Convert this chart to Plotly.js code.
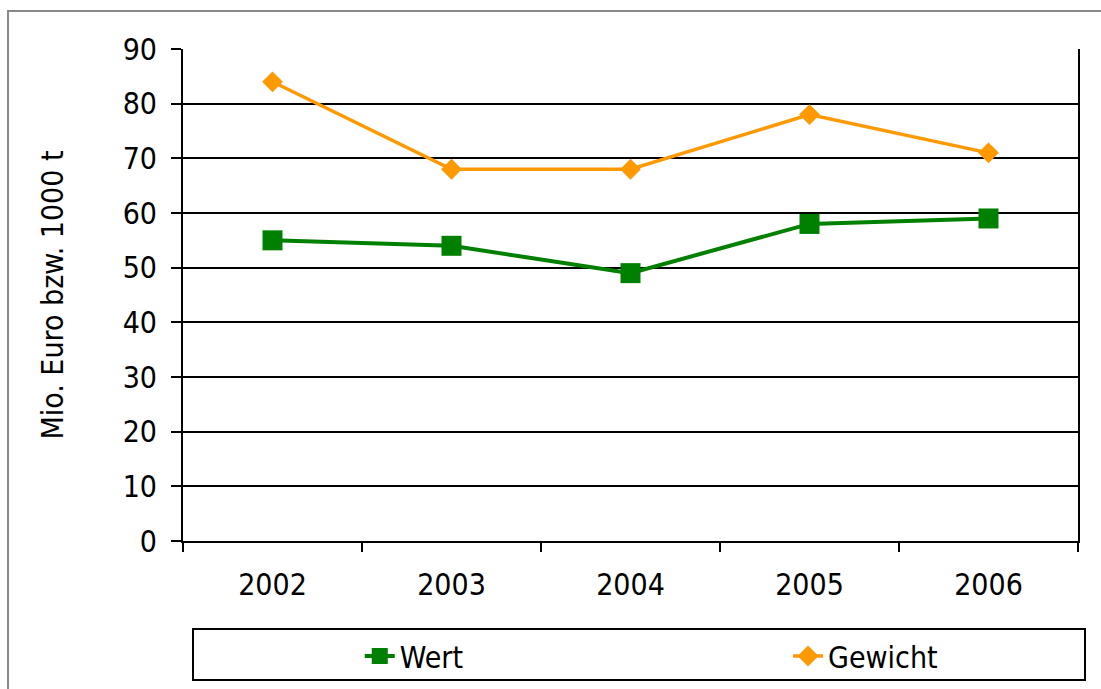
<!DOCTYPE html>
<html><head><meta charset="utf-8">
<script src="https://cdn.plot.ly/plotly-3.0.1.min.js"></script>
<style>html,body{margin:0;padding:0;background:#fff;}#chart{width:1101px;height:689px;}</style>
</head><body><div id="chart"></div>
<script>
const years = ['2002','2003','2004','2005','2006'];
const wert = [55, 54, 49, 58, 59];
const gewicht = [84, 68, 68, 78, 71];
const yTicks = [0,10,20,30,40,50,60,70,80,90];

const FONT = '"Liberation Sans Narrow", "Arial Narrow", "DejaVu Sans Condensed", sans-serif';

const traces = [
  {x: years, y: wert, name: 'Wert', type: 'scatter', mode: 'lines+markers', legend: 'legend',
   line: {color: '#008000', width: 4}, marker: {symbol: 'square', size: 20, color: '#008000'}},
  {x: years, y: gewicht, name: 'Gewicht', type: 'scatter', mode: 'lines+markers', legend: 'legend2',
   line: {color: '#FF9900', width: 3.5}, marker: {symbol: 'diamond', size: 16, color: '#FF9900'}}
];

const legendBase = {orientation: 'h', xanchor: 'left', y: -0.2337, yanchor: 'middle',
  bgcolor: 'rgba(0,0,0,0)', borderwidth: 0, font: {family: FONT, size: 30, color: '#000'}};

const layout = {
  width: 1101, height: 689,
  margin: {l: 183, r: 23, t: 49, b: 148, autoexpand: false},
  paper_bgcolor: '#fff', plot_bgcolor: '#fff',
  font: {family: FONT, size: 30, color: '#000'},
  showlegend: true,
  legend: Object.assign({}, legendBase, {x: 0.1975}),
  legend2: Object.assign({}, legendBase, {x: 0.676}),
  xaxis: {type: 'category', range: [-0.5, 4.5], tickson: 'boundaries', ticks: 'outside', ticklen: 9, tickwidth: 2,
    tickcolor: '#000', showline: true, linecolor: '#000', linewidth: 2, showgrid: false,
    zeroline: false, fixedrange: true, ticklabelstandoff: 16, tickfont: {family: FONT, size: 30}},
  yaxis: {range: [0, 90], tickvals: yTicks, ticktext: yTicks.map(String), ticks: 'outside', ticklen: 10,
    tickwidth: 2, tickcolor: '#000', showline: true, mirror: true, linecolor: '#000', linewidth: 2,
    showgrid: true, gridcolor: '#000', gridwidth: 2, zeroline: false, fixedrange: true,
    ticklabelstandoff: 8, tickfont: {family: FONT, size: 30},
    title: {text: 'Mio. Euro bzw. 1000 t', font: {family: FONT, size: 30}, standoff: 50}},
  shapes: [
    {type: 'rect', xref: 'paper', yref: 'paper', x0: -0.1955, x1: 1.03, y0: -0.313, y1: 1.0772,
     line: {color: '#888', width: 2}, fillcolor: 'rgba(0,0,0,0)', layer: 'below'},
    {type: 'rect', xref: 'paper', yref: 'paper', x0: 0.01117, x1: 1.00782, y0: -0.2825, y1: -0.1789,
     line: {color: '#000', width: 2}, fillcolor: 'rgba(0,0,0,0)'}
  ]
};

Plotly.newPlot('chart', traces, layout, {displayModeBar: false, staticPlot: true});
</script></body></html>
